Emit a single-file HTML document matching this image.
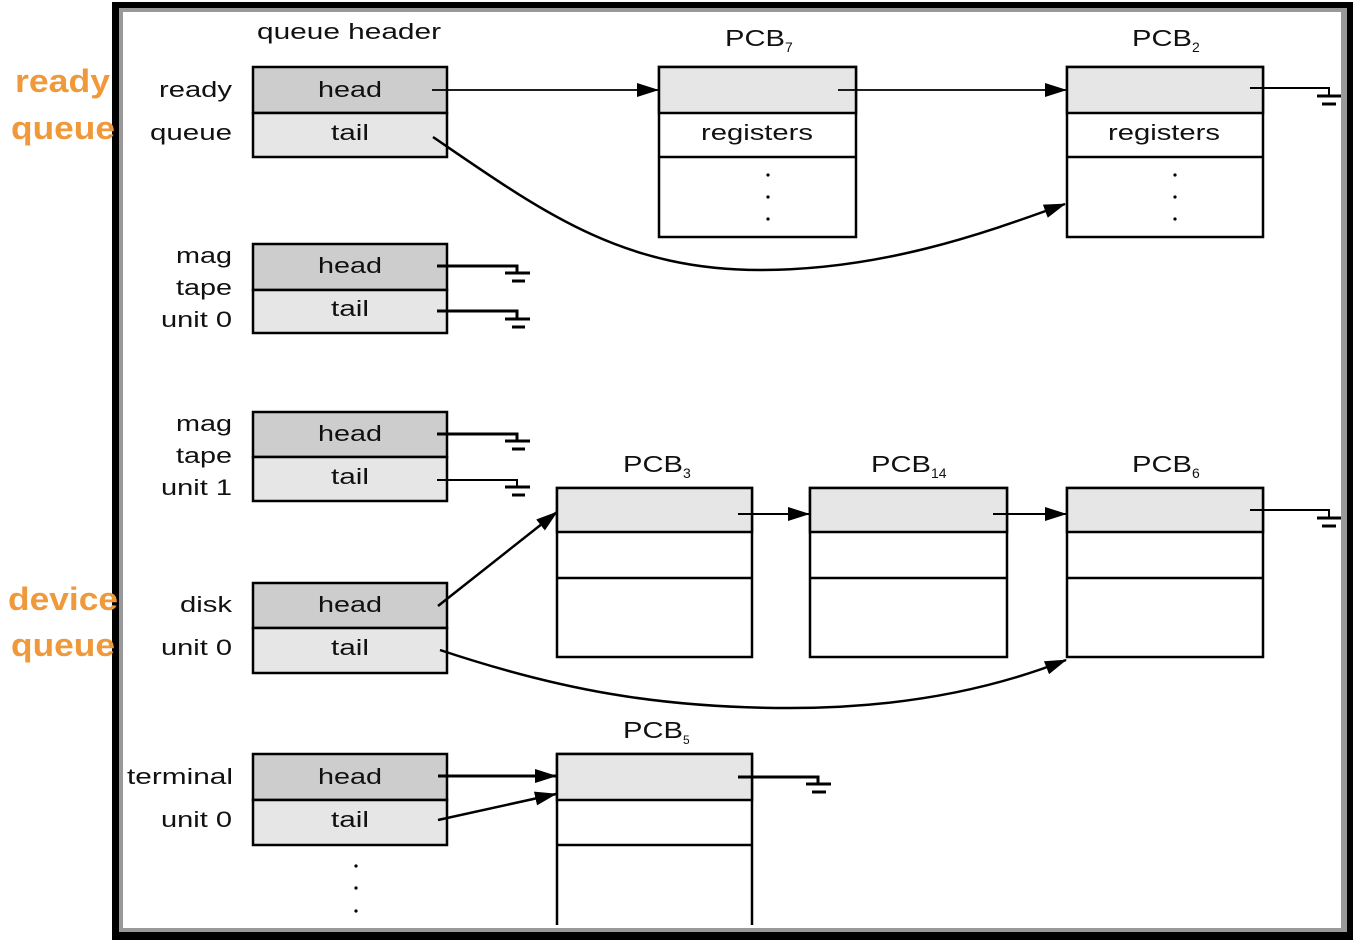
<!DOCTYPE html>
<html><head><meta charset="utf-8"><style>
html,body{margin:0;padding:0;background:#fff;}
svg{display:block;}
text{font-family:"Liberation Sans",sans-serif;fill:#111;}
.o{fill:#f0993a;font-weight:bold;font-size:32px;}
</style></head><body>
<svg width="1356" height="940" viewBox="0 0 1356 940" xmlns="http://www.w3.org/2000/svg">
<defs>
<marker id="b" markerWidth="22" markerHeight="14" refX="21" refY="7" orient="auto" markerUnits="userSpaceOnUse" viewBox="0 0 22 14"><path d="M0,0 L22,7 L0,14 z" fill="#000"/></marker>
</defs>
<!-- frame -->
<rect x="112" y="2" width="1241" height="938" fill="#000"/>
<rect x="119" y="8" width="1228" height="924" fill="#999"/>
<rect x="123" y="12" width="1218" height="916" fill="#fff"/>

<g font-size="22" lengthAdjust="spacingAndGlyphs">
<text x="159" y="97" textLength="73" lengthAdjust="spacingAndGlyphs">ready</text>
<text x="150" y="140" textLength="82" lengthAdjust="spacingAndGlyphs">queue</text>
<text x="176" y="263" textLength="56" lengthAdjust="spacingAndGlyphs">mag</text>
<text x="176" y="295" textLength="56" lengthAdjust="spacingAndGlyphs">tape</text>
<text x="161" y="327" textLength="71" lengthAdjust="spacingAndGlyphs">unit 0</text>
<text x="176" y="431" textLength="56" lengthAdjust="spacingAndGlyphs">mag</text>
<text x="176" y="463" textLength="56" lengthAdjust="spacingAndGlyphs">tape</text>
<text x="161" y="495" textLength="71" lengthAdjust="spacingAndGlyphs">unit 1</text>
<text x="180" y="612" textLength="52" lengthAdjust="spacingAndGlyphs">disk</text>
<text x="161" y="655" textLength="71" lengthAdjust="spacingAndGlyphs">unit 0</text>
<text x="127" y="784" textLength="106" lengthAdjust="spacingAndGlyphs">terminal</text>
<text x="161" y="827" textLength="71" lengthAdjust="spacingAndGlyphs">unit 0</text>
</g>
<text x="257" y="39" font-size="22" textLength="184" lengthAdjust="spacingAndGlyphs">queue header</text>

<g stroke="#000" stroke-width="2.5">
<rect x="253" y="67" width="194" height="46" fill="#cdcdcd"/><rect x="253" y="113" width="194" height="44" fill="#e6e6e6"/>
<rect x="253" y="244" width="194" height="46" fill="#cdcdcd"/><rect x="253" y="290" width="194" height="43" fill="#e6e6e6"/>
<rect x="253" y="412" width="194" height="45" fill="#cdcdcd"/><rect x="253" y="457" width="194" height="44" fill="#e6e6e6"/>
<rect x="253" y="583" width="194" height="45" fill="#cdcdcd"/><rect x="253" y="628" width="194" height="45" fill="#e6e6e6"/>
<rect x="253" y="754" width="194" height="46" fill="#cdcdcd"/><rect x="253" y="800" width="194" height="45" fill="#e6e6e6"/>
</g>
<g font-size="22">
<text x="318" y="97" textLength="64" lengthAdjust="spacingAndGlyphs">head</text><text x="331" y="140" textLength="38" lengthAdjust="spacingAndGlyphs">tail</text>
<text x="318" y="273" textLength="64" lengthAdjust="spacingAndGlyphs">head</text><text x="331" y="316" textLength="38" lengthAdjust="spacingAndGlyphs">tail</text>
<text x="318" y="441" textLength="64" lengthAdjust="spacingAndGlyphs">head</text><text x="331" y="484" textLength="38" lengthAdjust="spacingAndGlyphs">tail</text>
<text x="318" y="612" textLength="64" lengthAdjust="spacingAndGlyphs">head</text><text x="331" y="655" textLength="38" lengthAdjust="spacingAndGlyphs">tail</text>
<text x="318" y="784" textLength="64" lengthAdjust="spacingAndGlyphs">head</text><text x="331" y="827" textLength="38" lengthAdjust="spacingAndGlyphs">tail</text>
</g>

<!-- PCBs -->
<g stroke="#000" stroke-width="2.5">
<rect x="659" y="67" width="197" height="170" fill="#fff"/><rect x="659" y="67" width="197" height="46" fill="#e6e6e6"/><line x1="659" y1="157" x2="856" y2="157"/>
<rect x="1067" y="67" width="196" height="170" fill="#fff"/><rect x="1067" y="67" width="196" height="46" fill="#e6e6e6"/><line x1="1067" y1="157" x2="1263" y2="157"/>
<rect x="557" y="488" width="195" height="169" fill="#fff"/><rect x="557" y="488" width="195" height="44" fill="#e6e6e6"/><line x1="557" y1="578" x2="752" y2="578"/>
<rect x="810" y="488" width="197" height="169" fill="#fff"/><rect x="810" y="488" width="197" height="44" fill="#e6e6e6"/><line x1="810" y1="578" x2="1007" y2="578"/>
<rect x="1067" y="488" width="196" height="169" fill="#fff"/><rect x="1067" y="488" width="196" height="44" fill="#e6e6e6"/><line x1="1067" y1="578" x2="1263" y2="578"/>
<path d="M557,925 V754 H752 V925" fill="#fff"/><rect x="557" y="754" width="195" height="46" fill="#e6e6e6"/><line x1="557" y1="845" x2="752" y2="845"/>
</g>
<g font-size="22">
<text x="701" y="140" textLength="112" lengthAdjust="spacingAndGlyphs">registers</text>
<text x="1108" y="140" textLength="112" lengthAdjust="spacingAndGlyphs">registers</text>
</g>
<g fill="#000">
<circle cx="768" cy="175" r="1.6"/><circle cx="768" cy="197" r="1.6"/><circle cx="768" cy="219" r="1.6"/>
<circle cx="1175" cy="175" r="1.6"/><circle cx="1175" cy="197" r="1.6"/><circle cx="1175" cy="219" r="1.6"/>
<circle cx="356" cy="866" r="1.6"/><circle cx="356" cy="888" r="1.6"/><circle cx="356" cy="911" r="1.6"/>
</g>
<g font-size="23">
<text x="725" y="46"><tspan textLength="60" lengthAdjust="spacingAndGlyphs">PCB</tspan><tspan font-size="14" dy="6">7</tspan></text>
<text x="1132" y="46"><tspan textLength="60" lengthAdjust="spacingAndGlyphs">PCB</tspan><tspan font-size="14" dy="6">2</tspan></text>
<text x="623" y="472"><tspan textLength="60" lengthAdjust="spacingAndGlyphs">PCB</tspan><tspan font-size="14" dy="6">3</tspan></text>
<text x="871" y="472"><tspan textLength="60" lengthAdjust="spacingAndGlyphs">PCB</tspan><tspan font-size="14" dy="6">14</tspan></text>
<text x="1132" y="472"><tspan textLength="60" lengthAdjust="spacingAndGlyphs">PCB</tspan><tspan font-size="14" dy="6">6</tspan></text>
<text x="623" y="738"><tspan textLength="60" lengthAdjust="spacingAndGlyphs">PCB</tspan><tspan font-size="12" dy="6">5</tspan></text>
</g>

<!-- connectors -->
<g stroke="#000" fill="none">
<line x1="432" y1="90" x2="658" y2="90" stroke-width="1.8" marker-end="url(#b)"/>
<line x1="838" y1="90" x2="1066" y2="90" stroke-width="1.8" marker-end="url(#b)"/>
<line x1="738" y1="514" x2="809" y2="514" stroke-width="2" marker-end="url(#b)"/>
<line x1="993" y1="514" x2="1066" y2="514" stroke-width="2" marker-end="url(#b)"/>
<path d="M433,137 C540,210 620,270 760,270 C880,270 980,235 1065,204" stroke-width="2.5" marker-end="url(#b)"/>
<path d="M440,650 C560,690 660,708 790,708 C900,708 990,690 1066,660" stroke-width="2.5" marker-end="url(#b)"/>
<line x1="438" y1="606" x2="557" y2="512" stroke-width="2.5" marker-end="url(#b)"/>
<line x1="438" y1="776" x2="556" y2="776" stroke-width="3" marker-end="url(#b)"/>
<line x1="438" y1="820" x2="556" y2="794" stroke-width="2.5" marker-end="url(#b)"/>
</g>
<!-- grounds -->
<g stroke="#000" fill="none">
<path d="M437,266 H517 V272" stroke-width="3"/><path d="M505,273 H530 M512,281 H525" stroke-width="3"/>
<path d="M437,311 H517 V318" stroke-width="3"/><path d="M505,319 H530 M512,327 H525" stroke-width="3"/>
<path d="M437,434 H517 V440" stroke-width="3"/><path d="M505,441 H530 M512,449 H525" stroke-width="3"/>
<path d="M437,480 H517 V486" stroke-width="2"/><path d="M505,487 H530 M512,495 H525" stroke-width="3"/>
<path d="M1250,88 H1329 V95" stroke-width="2"/><path d="M1317,96 H1341 M1322,104 H1336" stroke-width="3"/>
<path d="M1250,510 H1329 V517" stroke-width="2"/><path d="M1317,518 H1341 M1322,526 H1336" stroke-width="3"/>
<path d="M738,777 H818 V783" stroke-width="3"/><path d="M806,784 H831 M812,792 H826" stroke-width="3"/>
</g>

<text class="o" x="15" y="92" textLength="95" lengthAdjust="spacingAndGlyphs">ready</text>
<text class="o" x="11" y="139" textLength="104" lengthAdjust="spacingAndGlyphs">queue</text>
<text class="o" x="8" y="610" textLength="110" lengthAdjust="spacingAndGlyphs">device</text>
<text class="o" x="11" y="656" textLength="104" lengthAdjust="spacingAndGlyphs">queue</text>
</svg>
</body></html>
